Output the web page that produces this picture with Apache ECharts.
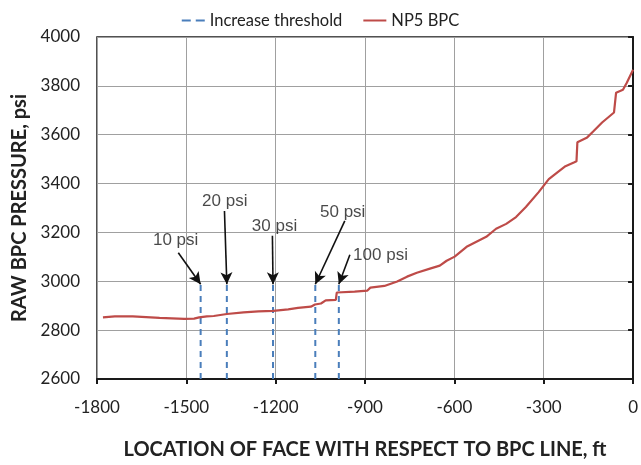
<!DOCTYPE html>
<html><head><meta charset="utf-8">
<script src="https://cdn.jsdelivr.net/npm/echarts@6/dist/echarts.min.js"></script>
<style>html,body{margin:0;padding:0;background:#fff}#c{width:641px;height:465px}</style>
</head><body><div id="c"></div>
<script>
// Location of face (ft) for NP5 BPC series
const bpcX = [-1780,-1740,-1680,-1590,-1507,-1474,-1457,-1431,-1408,-1364,-1308,-1258,-1208,-1158,-1125,-1082,-1068,-1048,-1032,-998,-995,-935,-892,-882,-835,-792,-759,-726,-682,-649,-626,-599,-559,-526,-493,-460,-426,-393,-360,-317,-283,-253,-227,-197,-190,-187,-154,-134,-104,-64,-61,-57,-34,-21,0];
// Raw BPC pressure (psi)
const bpcY = [2852,2856,2856,2850,2846,2847,2852,2856,2858,2866,2873,2877,2879,2885,2891,2896,2905,2909,2922,2924,2954,2958,2962,2974,2981,2999,3019,3035,3052,3064,3084,3101,3141,3162,3182,3215,3235,3263,3304,3365,3418,3447,3471,3487,3491,3569,3589,3613,3650,3691,3695,3772,3784,3813,3866];
// Increase thresholds
const thresholdX = [-1452,-1364,-1209,-1067,-988];
const thresholdLow = 2600;
const thresholdHigh = 3000;
const thresholdLabels = ['10 psi','20 psi','30 psi','50 psi','100 psi'];
// annotation text anchors (data coords) and arrow tails
const labelX = [-1536,-1371,-1204,-975,-848];
const labelY = [3166,3329,3223,3284,3105];
const arrowFromX = [-1527,-1372,-1211,-968,-951];
const arrowFromY = [3117,3288,3186,3247,3109];
const arrowToY = 2988;
// Axis ticks
const xTicks = [-1800,-1500,-1200,-900,-600,-300,0];
const yTicks = [2600,2800,3000,3200,3400,3600,3800,4000];

const FONT = 'Lato';
const series = [];
thresholdX.forEach((x,i)=>{
  series.push({
    name:'Increase threshold', type:'line', symbol:'none', silent:true,
    lineStyle:{color:'#4A7EBB', width:2, type:[6,5]},
    itemStyle:{color:'#4A7EBB'},
    data:[[x,thresholdLow],[x,thresholdHigh]], z:3
  });
});
series.push({
  name:'NP5 BPC', type:'line', symbol:'none',
  lineStyle:{color:'#BE4B48', width:2.2}, itemStyle:{color:'#BE4B48'},
  data: bpcX.map((x,i)=>[x,bpcY[i]]), z:4
});
series.push({
  name:'annot', type:'scatter', symbolSize:0, silent:true,
  data: thresholdLabels.map((t,i)=>({name:t, value:[labelX[i],labelY[i]]})),
  label:{show:true, position:'inside', formatter:p=>p.name, color:'#1a1a1a',
    fontFamily:'Liberation Sans', fontSize:17},
  markLine:{
    silent:true, symbol:['none','arrow'], symbolSize:[9,12],
    lineStyle:{color:'#111', width:1.6, type:'solid'},
    label:{show:false},
    data: thresholdX.map((x,i)=>[{coord:[arrowFromX[i],arrowFromY[i]]},{coord:[x,arrowToY]}])
  }, z:5
});

const chart = echarts.init(document.getElementById('c'));
chart.setOption({
  animation:false,
  legend:{
    data:[
      {name:'Increase threshold', icon:'path://M0,0h9v2h-9z M14,0h9v2h-9z'},
      {name:'NP5 BPC', icon:'path://M0,0h23v2h-23z'}
    ],
    top:7, left:'center',
    itemWidth:23, itemHeight:2, itemGap:21,
    textStyle:{fontFamily:FONT, fontSize:16.5, color:'#222'}
  },
  grid:{left:97, right:3, top:37, bottom:84, show:true, borderColor:'#1a1a1a', borderWidth:1.5},
  xAxis:{
    type:'value', min:xTicks[0], max:xTicks[xTicks.length-1], interval:300,
    name:'LOCATION OF FACE WITH RESPECT TO BPC LINE, ft', nameLocation:'middle', nameGap:61,
    nameTextStyle:{fontFamily:FONT, fontWeight:'bold', fontSize:20, color:'#222'},
    axisLine:{lineStyle:{color:'#1a1a1a', width:2}},
    axisTick:{show:true, length:5, lineStyle:{color:'#1a1a1a', width:2}},
    axisLabel:{fontFamily:FONT, fontSize:17, color:'#222', margin:20, formatter:v=>String(v)},
    splitLine:{show:true, lineStyle:{color:'#A0A0A0', width:1}}
  },
  yAxis:{
    type:'value', min:yTicks[0], max:yTicks[yTicks.length-1], interval:200,
    name:'RAW BPC PRESSURE, psi', nameLocation:'middle', nameGap:66,
    nameTextStyle:{fontFamily:FONT, fontWeight:'bold', fontSize:20, color:'#222'},
    axisLine:{show:true, lineStyle:{color:'#1a1a1a', width:2}},
    axisTick:{show:true, length:5, lineStyle:{color:'#1a1a1a', width:2}},
    axisLabel:{fontFamily:FONT, fontSize:17, color:'#222', margin:17, formatter:v=>String(v)},
    splitLine:{show:true, lineStyle:{color:'#A0A0A0', width:1}}
  },
  series: series
});
</script></body></html>
